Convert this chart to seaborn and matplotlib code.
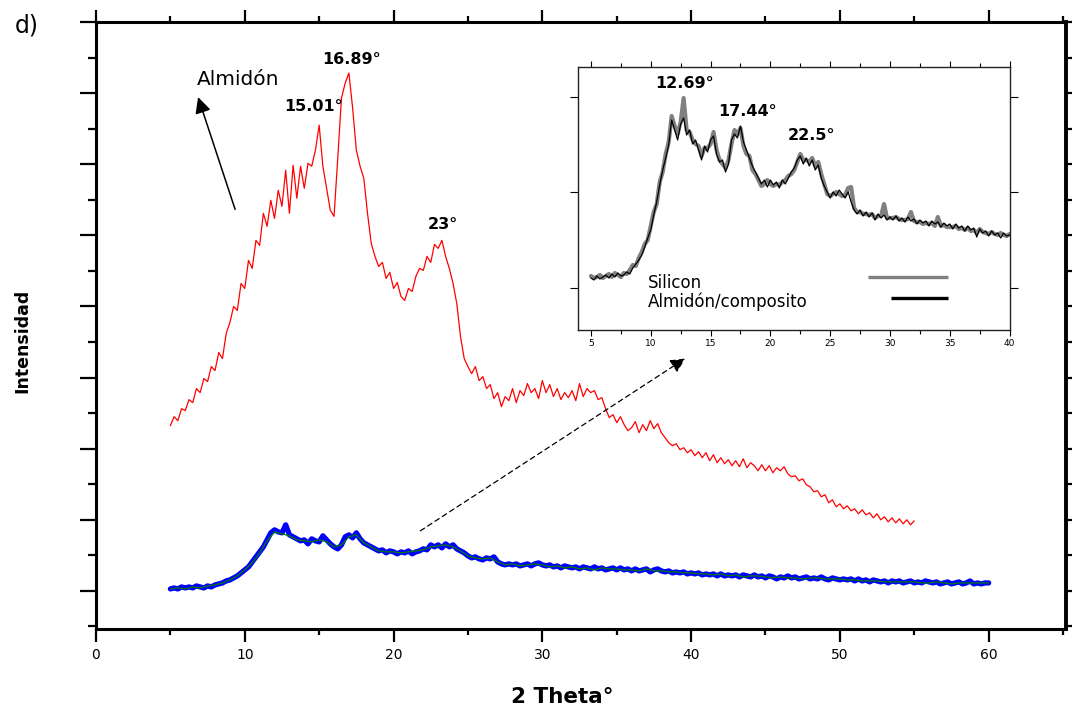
import numpy as np
import pandas as pd
import matplotlib
matplotlib.use("Agg")
import matplotlib.pyplot as plt
import seaborn as sns
from matplotlib.ticker import MultipleLocator

# ---------------- data (arbitrary intensity units) ----------------
# Almidón (red), 2theta 5 .. 55 step 0.25
almidon_x = np.arange(5.0, 55.001, 0.25)
almidon_y = [
    203, 212, 208, 220,   # 5
    218, 229, 226, 240,   # 6
    236, 250, 247, 262,   # 7
    258, 276, 270, 295,   # 8
    306, 322, 318, 345,   # 9
    340, 368, 360, 388,   # 10
    383, 415, 402, 428,   # 11
    410, 438, 422, 458,   # 12
    415, 463, 430, 462,   # 13
    440, 465, 462, 478,   # 14
    503, 462, 440, 418,   # 15
    412, 470, 530, 545,   # 16
    555, 520, 478, 462,   # 17
    450, 415, 385, 372,   # 18
    362, 366, 350, 356,   # 19
    340, 346, 332, 328,   # 20
    340, 337, 352, 360,   # 21
    358, 372, 366, 384,   # 22
    380, 388, 372, 360,   # 23
    345, 325, 292, 270,   # 24
    262, 255, 262, 248,   # 25
    252, 240, 244, 230,   # 26
    236, 222, 232, 228,   # 27
    240, 226, 238, 233,   # 28
    245, 236, 240, 230,   # 29
    248, 236, 244, 232,   # 30
    240, 229, 236, 231,   # 31
    238, 228, 245, 232,   # 32
    240, 236, 238, 229,   # 33
    231, 220, 211, 214,   # 34
    206, 212, 204, 198,   # 35
    201, 207, 196, 204,   # 36
    198, 208, 200, 205,   # 37
    196, 191, 186, 183,   # 38
    185, 179, 181, 176,   # 39
    179, 173, 177, 171,   # 40
    176, 168, 174, 166,   # 41
    171, 165, 169, 163,   # 42
    168, 162, 170, 161,   # 43
    166, 163, 158, 164,   # 44
    158, 163, 156, 161,   # 45
    158, 162, 155, 152,   # 46
    153, 148, 150, 144,   # 47
    142, 137, 138, 132,   # 48
    134, 126, 129, 122,   # 49
    125, 120, 123, 118,   # 50
    120, 115, 119, 114,   # 51
    116, 111, 115, 109,   # 52
    112, 107, 111, 106,   # 53
    110, 105, 109, 104,   # 54
    108,                  # 55
]

# Composite (blue, thick), 2theta 5 .. 60 step 0.25
blue_x = np.arange(5.0, 60.001, 0.25)
blue_y = [
    40, 41, 40, 42,  41, 42, 41, 43,  42, 41, 43, 42,      # 5-7
    44, 45, 46, 48,  49, 51, 53, 56,                      # 8-9
    59, 62, 67, 72,  77, 82, 89, 96,                      # 10-11
    99, 97, 96, 104,  94, 92, 90, 88,                     # 12-13
    89, 85, 90, 88,  87, 93, 89, 85,                      # 14-15
    82, 80, 84, 92,  94, 91, 96, 90,                      # 16-17
    86, 84, 82, 80,  78, 79, 76, 78,                      # 18-19
    77, 75, 77, 76,  78, 75, 77, 78,                      # 20-21
    80, 79, 84, 82,  84, 81, 85, 82,                      # 22-23
    84, 80, 78, 76,  73, 71, 72, 70,                      # 24-25
    69, 71, 70, 72,  67, 65, 64, 65,                      # 26-27
    64, 65, 63, 64,  65, 63, 65, 66,                      # 28-29
    64, 63, 64, 62,  63, 61, 63, 62,                      # 30-31
    61, 62, 60, 62,  61, 60, 62, 60,                      # 32-33
    61, 59, 60, 61,  59, 61, 59, 60,                      # 34-35
    58, 60, 58, 59,  60, 57, 59, 60,                      # 36-37
    58, 57, 58, 56,  57, 56, 57, 55,                      # 38-39
    56, 55, 56, 54,  55, 54, 55, 53,                      # 40-41
    55, 53, 54, 53,  54, 52, 54, 53,                      # 42-43
    52, 54, 52, 53,  51, 53, 52, 50,                      # 44-45
    52, 51, 53, 51,  52, 50, 51, 52,                      # 46-47
    50, 51, 50, 52,  50, 49, 51, 50,                      # 48-49
    49, 50, 49, 50,  48, 50, 48, 49,                      # 50-51
    47, 49, 48, 47,  48, 46, 48, 47,                      # 52-53
    48, 46, 47, 48,  46, 47, 46, 48,                      # 54-55
    47, 46, 47, 45,  46, 47, 45, 46,                      # 56-57
    47, 45, 46, 48,  45, 46, 45, 46,                      # 58-59
    46,                                                   # 60
]

# Composite (green, thin), 2theta 5 .. 60 step 0.5
green_x = np.arange(5.0, 60.001, 0.5)
green_y = [
    40, 41, 40, 42, 41, 43, 44, 46, 49, 53,   # 5 - 9.5
    59, 66, 76, 88, 97, 95, 93, 89, 88, 87,   # 10 - 14.5
    89, 87, 82, 84, 92, 94, 86, 82, 78, 77,   # 15 - 19.5
    77, 76, 77, 78, 79, 82, 83, 84, 82, 78,   # 20 - 24.5
    73, 71, 70, 71, 67, 64, 65, 63, 64, 65,   # 25 - 29.5
    64, 62, 63, 61, 62, 60, 61, 59, 61, 60,   # 30 - 34.5
    60, 59, 59, 58, 60, 58, 58, 57, 57, 56,   # 35 - 39.5
    56, 55, 55, 54, 55, 53, 54, 52, 53, 53,   # 40 - 44.5
    52, 51, 52, 51, 51, 50, 51, 51, 50, 50,   # 45 - 49.5
    50, 49, 49, 48, 48, 48, 47, 47, 47, 47,   # 50 - 54.5
    47, 46, 46, 47, 46, 45, 46, 46, 46, 46,   # 55 - 59.5
    46,                                       # 60
]

# Inset: 2theta 5 .. 40 step 0.25
inset_x = np.arange(5.0, 40.001, 0.25)
silicon_y = [
    54, 52, 53, 55,  52, 54, 56, 53,  57, 55, 53, 57,     # 5-7
    56, 60, 65, 64,  72, 78, 86, 90,                      # 8-9
    104, 118, 126, 148,  158, 176, 188, 214,              # 10-11
    204, 196, 208, 232,  200, 198, 190, 186,              # 12-13
    184, 174, 182, 182,  186, 198, 180, 170,              # 14-15
    166, 162, 170, 186,  200, 196, 202, 184,              # 16-17
    176, 174, 160, 156,  150, 144, 146, 150,              # 18-19
    146, 144, 146, 145,  148, 150, 154, 156,              # 20-21
    160, 168, 176, 170,  170, 168, 172, 164,              # 22-23
    168, 156, 146, 136,  134, 136, 138, 136,              # 24-25
    134, 135, 142, 143,  122, 118, 118, 116,              # 26-27
    116, 115, 116, 112,  114, 114, 126, 112,              # 28-29
    112, 112, 113, 111,  110, 110, 111, 118,              # 30-31
    109, 108, 108, 106,  107, 106, 107, 104,              # 32-33
    113, 104, 105, 103,  103, 103, 104, 101,              # 34-35
    102, 100, 102, 99,  100, 97, 101, 98,                 # 36-37
    97, 96, 98, 96,  95, 97, 95, 94,                      # 38-39
    96,                                                   # 40
]
composito_y = [
    52, 50, 54, 51,  53, 55, 52, 56,  53, 57, 54, 55,     # 5-7
    58, 56, 62, 66,  70, 75, 83, 92,                      # 8-9
    100, 115, 128, 145,  160, 172, 185, 210,              # 10-11
    200, 190, 206, 212,  195, 200, 186, 190,              # 12-13
    180, 170, 184, 178,  190, 194, 176, 168,              # 14-15
    170, 158, 166, 190,  196, 192, 204, 188,              # 16-17
    180, 172, 164, 158,  152, 146, 150, 143,              # 18-19
    150, 145, 148, 142,  150, 146, 152, 158,              # 20-21
    162, 170, 174, 166,  172, 164, 170, 160,              # 22-23
    165, 152, 144, 138,  132, 138, 134, 140,              # 24-25
    136, 132, 138, 128,  120, 116, 120, 114,              # 26-27
    118, 113, 117, 110,  116, 112, 115, 110,              # 28-29
    113, 110, 114, 109,  112, 108, 113, 109,              # 30-31
    111, 106, 110, 107,  109, 104, 109, 106,              # 32-33
    108, 103, 107, 104,  106, 101, 106, 102,              # 34-35
    104, 99, 104, 100,  102, 93, 101, 97,                 # 36-37
    99, 94, 99, 95,  97, 92, 97, 94,                      # 38-39
    95,                                                   # 40
]

assert len(almidon_x) == len(almidon_y)
assert len(blue_x) == len(blue_y)
assert len(green_x) == len(green_y)
assert len(inset_x) == len(silicon_y) == len(composito_y)

main_peaks = [(17.2, 569, "16.89°"), (14.6, 522, "15.01°"), (23.3, 404, "23°")]
inset_peaks = [(12.83, 246, "12.69°"), (18.1, 218, "17.44°"), (23.4, 195, "22.5°")]
legend_labels = ["Silicon", "Almidón/composito"]

# ---------------- style ----------------
sns.set_style("ticks")
plt.rcParams['font.family'] = ['DejaVu Sans']
plt.rcParams['text.color'] = 'black'
plt.rcParams['axes.labelcolor'] = 'black'
plt.rcParams['xtick.color'] = 'black'
plt.rcParams['ytick.color'] = 'black'

W, H = 1072, 707
fig = plt.figure(figsize=(W / 100, H / 100), dpi=100)

# main axes
ax = fig.add_axes([96 / W, 1 - 629 / H, (1066 - 96) / W, (629 - 22) / H])
sns.lineplot(x=almidon_x, y=almidon_y, ax=ax, color='#ff0000', lw=0.9,
             estimator=None, sort=False)
sns.lineplot(x=blue_x, y=blue_y, ax=ax, color='#0000ff', lw=3.8,
             estimator=None, sort=False)
sns.lineplot(x=green_x, y=green_y, ax=ax, color='#008000', lw=0.9,
             estimator=None, sort=False)
if ax.get_legend() is not None:
    ax.get_legend().remove()

ax.set_xlim(0, 65.2)
ax.set_ylim(0, 606)
ax.xaxis.set_major_locator(MultipleLocator(10))
ax.xaxis.set_minor_locator(MultipleLocator(5))
ax.set_yticks([38 + 71 * k for k in range(9)])
ax.set_yticks([2.5 + 71 * k for k in range(9)], minor=True)
ax.set_yticklabels([])
ax.tick_params(which='both', direction='out', top=True, right=True,
               width=1.6, color='black', labelcolor='black')
ax.tick_params(axis='x', which='major', length=9, labelsize=10, pad=5)
ax.tick_params(axis='x', which='minor', length=4.5)
ax.tick_params(axis='y', which='major', length=11.5)
ax.tick_params(axis='y', which='minor', length=6)
for name, s in ax.spines.items():
    s.set_linewidth(2.2)
    s.set_color('black')
ax.spines['right'].set_linewidth(2.8)

ax.set_xlabel('2 Theta°', fontsize=15.5, fontweight='bold', color='black')
ax.xaxis.set_label_coords((562 - 96) / 970, (629 - 697) / 607)
ax.xaxis.label.set_va('center')
ax.set_ylabel('Intensidad', fontsize=12.5, fontweight='bold', color='black')
ax.yaxis.set_label_coords((22 - 96) / 970, (629 - 341) / 607)
ax.yaxis.label.set_va('center')
ax.yaxis.label.set_ha('center')

for x, y, t in main_peaks:
    ax.text(x, y, t, ha='center', va='center', fontsize=11.5,
            fontweight='bold', color='black')

ax.text(6.8, 549, 'Almidón', ha='left', va='center', fontsize=14.5, color='black')
ax.annotate('', xy=(6.86, 531), xytext=(9.35, 419),
            arrowprops=dict(arrowstyle='-|>', color='black', lw=1.1,
                            mutation_scale=24, shrinkA=0, shrinkB=0))
ax.annotate('', xy=(39.6, 270), xytext=(21.8, 98),
            arrowprops=dict(arrowstyle='-|>', color='black', lw=0.9,
                            linestyle=(0, (4, 3)), mutation_scale=22,
                            shrinkA=0, shrinkB=0))

fig.text(15 / W, 1 - 25 / H, 'd)', fontsize=17, ha='left', va='center', color='black')

# inset axes
axin = fig.add_axes([578 / W, 1 - 330 / H, 432 / W, 263 / H])
axin.set_facecolor('white')
sns.lineplot(x=inset_x, y=silicon_y, ax=axin, color='#808080', lw=3.0,
             estimator=None, sort=False)
sns.lineplot(x=inset_x, y=composito_y, ax=axin, color='black', lw=0.9,
             estimator=None, sort=False)
if axin.get_legend() is not None:
    axin.get_legend().remove()
axin.set_xlim(3.92, 40.03)
axin.set_ylim(0, 263)
axin.xaxis.set_major_locator(MultipleLocator(5))
axin.xaxis.set_minor_locator(MultipleLocator(2.5))
axin.set_yticks([42, 138, 233])
axin.set_yticklabels([])
axin.tick_params(which='both', direction='out', top=True, right=True,
                 width=0.8, color='black', labelcolor='black')
axin.tick_params(axis='x', which='major', length=4.5, labelsize=6.5, pad=2)
axin.tick_params(axis='x', which='minor', length=3)
axin.tick_params(axis='y', which='major', length=6)
for s in axin.spines.values():
    s.set_linewidth(1.0)
    s.set_color('#222222')
axin.set_xlabel('')
axin.set_ylabel('')

for x, y, t in inset_peaks:
    axin.text(x, y, t, ha='center', va='center', fontsize=11.5,
              fontweight='bold', color='black')

# Origin-style key: labels left, line samples right-aligned
key_tr = axin.transAxes
axin.text((648 - 578) / 432, (330 - 283) / 263, legend_labels[0], transform=key_tr,
          ha='left', va='center', fontsize=12, color='black')
axin.text((648 - 578) / 432, (330 - 302) / 263, legend_labels[1], transform=key_tr,
          ha='left', va='center', fontsize=12, color='black')
axin.plot([(868 - 578) / 432, (948 - 578) / 432], [(330 - 277) / 263] * 2,
          transform=key_tr, color='#808080', lw=2.4, solid_capstyle='butt')
axin.plot([(891 - 578) / 432, (948 - 578) / 432], [(330 - 298) / 263] * 2,
          transform=key_tr, color='black', lw=2.4, solid_capstyle='butt')

fig.savefig('out.png', dpi=100)
